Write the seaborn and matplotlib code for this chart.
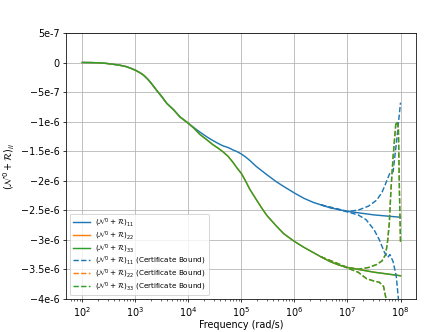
import numpy as np
import matplotlib
matplotlib.use("Agg")
import matplotlib.pyplot as plt
import seaborn as sns

# log10 of frequency (rad/s) for the solid curves
solid_exp = [2.0, 2.15, 2.3, 2.45, 2.58, 2.7, 2.83, 2.92, 3.0, 3.08, 3.15, 3.22, 3.28, 3.34,
             3.4, 3.5, 3.59, 3.72, 3.84, 4.0, 4.1, 4.22, 4.35, 4.46, 4.56, 4.65, 4.75, 4.84,
             4.92, 5.0, 5.08, 5.16, 5.28, 5.38, 5.48, 5.57, 5.66, 5.8, 6.0, 6.18, 6.36, 6.5,
             6.67, 6.84, 7.0, 7.25, 7.5, 7.75, 8.0]
# values in units of 1e-6
n11 = [0.0, -0.001, -0.005, -0.015, -0.03, -0.045, -0.07, -0.10, -0.13, -0.17, -0.21, -0.27,
       -0.33, -0.40, -0.47, -0.58, -0.69, -0.80, -0.92, -1.03, -1.10, -1.18, -1.26, -1.32,
       -1.37, -1.41, -1.44, -1.48, -1.51, -1.55, -1.60, -1.66, -1.76, -1.83, -1.90, -1.96,
       -2.02, -2.10, -2.21, -2.30, -2.37, -2.41, -2.46, -2.49, -2.52, -2.55, -2.58, -2.60, -2.62]
n22 = [0.0, -0.001, -0.005, -0.015, -0.03, -0.045, -0.07, -0.10, -0.13, -0.17, -0.21, -0.27,
       -0.33, -0.40, -0.47, -0.58, -0.69, -0.80, -0.92, -1.03, -1.11, -1.22, -1.31, -1.39,
       -1.45, -1.51, -1.59, -1.69, -1.79, -1.88, -2.01, -2.15, -2.32, -2.46, -2.59, -2.68,
       -2.77, -2.90, -3.03, -3.13, -3.22, -3.29, -3.37, -3.43, -3.47, -3.51, -3.55, -3.58, -3.61]
n33 = list(n22)

# certificate bounds (upper / lower branches), same units
b11_up_exp = [6.5, 7.0, 7.2, 7.4, 7.55, 7.65, 7.72, 7.8, 7.86, 7.93, 8.0]
b11_up = [-2.41, -2.52, -2.50, -2.43, -2.33, -2.20, -2.05, -1.87, -1.85, -1.30, -0.68]
b11_lo_exp = [6.5, 7.0, 7.2, 7.35, 7.5, 7.6, 7.7, 7.76, 7.8, 7.86, 7.92, 7.97]
b11_lo = [-2.41, -2.53, -2.58, -2.66, -2.83, -3.00, -3.22, -3.30, -3.25, -3.37, -3.62, -4.10]

b33_up_exp = [6.5, 7.0, 7.2, 7.4, 7.55, 7.65, 7.72, 7.76, 7.79, 7.82, 7.86, 7.91, 7.93, 7.96,
              7.98, 8.0]
b33_up = [-3.29, -3.47, -3.50, -3.47, -3.42, -3.36, -3.25, -3.00, -2.70, -2.15, -1.60, -1.05,
          -1.00, -1.10, -2.20, -3.05]
b33_lo_exp = [6.5, 7.0, 7.2, 7.36, 7.5, 7.6, 7.68, 7.75]
b33_lo = [-3.29, -3.48, -3.55, -3.66, -3.70, -3.72, -3.79, -4.10]

xtick_vals = [1e2, 1e3, 1e4, 1e5, 1e6, 1e7, 1e8]
ytick_vals = [5e-7, 0, -5e-7, -1e-6, -1.5e-6, -2e-6, -2.5e-6, -3e-6, -3.5e-6, -4e-6]
ytick_labels = ["5e-7", "0", "\u22125e-7", "\u22121e-6", "\u22121.5e-6", "\u22122e-6",
                "\u22122.5e-6", "\u22123e-6", "\u22123.5e-6", "\u22124e-6"]

BLUE, ORANGE, GREEN = "#1f77b4", "#ff7f0e", "#2ca02c"
DPI = 443 / 6.4


def freq(e):
    return 10.0 ** np.asarray(e)


def scaled(v):
    return np.asarray(v) * 1e-6


def lab(ij, cert=False):
    s = r"$(\mathcal{N}^0 + \mathcal{R})_{%s}$" % ij
    return s + " (Certificate Bound)" if cert else s


fig, ax = plt.subplots(figsize=(6.4, 4.8), dpi=DPI)
fig.subplots_adjust(left=0.15, right=0.94, top=0.9, bottom=0.1)

# solid curves
sns.lineplot(x=freq(solid_exp), y=scaled(n11), ax=ax, color=BLUE, label=lab("11"), sort=False)
sns.lineplot(x=freq(solid_exp), y=scaled(n22), ax=ax, color=ORANGE, label=lab("22"), sort=False)
sns.lineplot(x=freq(solid_exp), y=scaled(n33), ax=ax, color=GREEN, label=lab("33"), sort=False)

# certificate bounds
sns.lineplot(x=freq(b11_up_exp), y=scaled(b11_up), ax=ax, color=BLUE, linestyle="--",
             label=lab("11", True), sort=False)
sns.lineplot(x=freq(b33_up_exp), y=scaled(b33_up), ax=ax, color=ORANGE, linestyle="--",
             label=lab("22", True), sort=False)
sns.lineplot(x=freq(b33_up_exp), y=scaled(b33_up), ax=ax, color=GREEN, linestyle="--",
             label=lab("33", True), sort=False)
sns.lineplot(x=freq(b11_lo_exp), y=scaled(b11_lo), ax=ax, color=BLUE, linestyle="--", sort=False)
sns.lineplot(x=freq(b33_lo_exp), y=scaled(b33_lo), ax=ax, color=ORANGE, linestyle="--", sort=False)
sns.lineplot(x=freq(b33_lo_exp), y=scaled(b33_lo), ax=ax, color=GREEN, linestyle="--", sort=False)

ax.set_xscale("log")
ax.set_xlim(10 ** 1.7, 10 ** 8.3)
ax.set_xticks(xtick_vals)
ax.set_ylim(-4e-6, 5e-7)
ax.set_yticks(ytick_vals)
ax.set_yticklabels(ytick_labels)
ax.tick_params(axis="x", pad=2.5)
ax.grid(True)
ax.set_xlabel("Frequency (rad/s)", labelpad=1.5)
ax.set_ylabel(r"$(\mathcal{N}^0 + \mathcal{R})_{ii}$")
ax.legend(loc="lower left", fontsize=7.5, labelspacing=0.05, handlelength=2.4,
          handletextpad=0.7)

fig.savefig("out.png", dpi=DPI)
